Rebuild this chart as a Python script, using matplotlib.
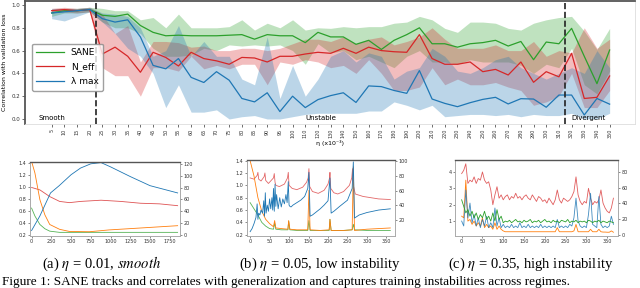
import matplotlib.pyplot as plt
import numpy as np

plt.rcParams['mathtext.fontset'] = 'stix'

# ---- top panel: correlation with validation loss vs learning rate ----
eta_labels = [5, 10, 15, 20, 25, 30, 35, 40, 45, 50, 55, 60, 65, 70, 75, 80, 85, 90, 95,
              100, 110, 120, 130, 140, 150, 160, 170, 180, 190, 200, 210, 220, 230, 240,
              250, 260, 270, 280, 290, 300, 310, 320, 330, 340, 350]

sane_mean = [0.93, 0.95, 0.95, 0.96,
             0.91, 0.90, 0.92, 0.82, 0.76, 0.73, 0.735, 0.73, 0.73, 0.73, 0.735, 0.74, 0.70, 0.74,
             0.73, 0.73, 0.67, 0.76,
             0.72, 0.72, 0.655, 0.69, 0.61, 0.69, 0.74, 0.80, 0.66, 0.66, 0.63, 0.66, 0.67, 0.69,
             0.64, 0.68, 0.52, 0.675, 0.66, 0.795, 0.55, 0.31, 0.605]
sane_hi = [0.96, 0.97, 0.97, 0.98,
           0.97, 0.95, 0.95, 0.87, 0.89, 0.80, 0.92, 0.80, 0.80, 0.80, 0.81, 0.87, 0.78, 0.84,
           0.80, 0.87, 0.78, 0.80,
           0.795, 0.81, 0.80, 0.81, 0.81, 0.84, 0.85, 0.90, 0.87, 0.795, 0.76, 0.85, 0.85, 0.84,
           0.795, 0.78, 0.84, 0.87, 0.89, 0.90, 0.77, 0.61, 0.795]
sane_lo = [0.90, 0.93, 0.93, 0.94,
           0.85, 0.80, 0.80, 0.75, 0.62, 0.55, 0.55, 0.56, 0.62, 0.60, 0.65, 0.64, 0.65, 0.64,
           0.65, 0.60, 0.48, 0.66,
           0.58, 0.60, 0.52, 0.55, 0.50, 0.45, 0.55, 0.60, 0.50, 0.50, 0.48, 0.52, 0.50, 0.50,
           0.50, 0.47, 0.40, 0.48, 0.45, 0.62, 0.30, 0.22, 0.42]

neff_mean = [0.95, 0.96, 0.95, 0.96,
             0.57, 0.63, 0.55, 0.41, 0.585, 0.54, 0.465, 0.585, 0.53, 0.51, 0.48, 0.54, 0.535, 0.50,
             0.55, 0.55, 0.57, 0.585,
             0.576, 0.62, 0.576, 0.63, 0.60, 0.59, 0.585, 0.74, 0.53, 0.48, 0.48, 0.50, 0.415, 0.435,
             0.386, 0.50, 0.322, 0.415, 0.37, 0.576, 0.18, 0.19, 0.377]
neff_hi = [0.97, 0.98, 0.97, 0.98,
           0.92, 0.75, 0.82, 0.50, 0.68, 0.68, 0.67, 0.63, 0.64, 0.60, 0.60, 0.62, 0.62, 0.60,
           0.62, 0.66, 0.70, 0.70,
           0.68, 0.72, 0.66, 0.70, 0.72, 0.65, 0.68, 0.72, 0.80, 0.70, 0.62, 0.62, 0.62, 0.65,
           0.60, 0.60, 0.68, 0.55, 0.60, 0.58, 0.80, 0.62, 0.70]
neff_lo = [0.93, 0.94, 0.93, 0.94,
           0.45, 0.38, 0.38, 0.20, 0.45, 0.45, 0.42, 0.55, 0.44, 0.47, 0.44, 0.48, 0.48, 0.30,
           0.50, 0.48, 0.52, 0.50,
           0.45, 0.47, 0.40, 0.52, 0.40, 0.25, 0.25, 0.28, 0.45, 0.30, 0.35, 0.30, 0.30, 0.32,
           0.28, 0.25, 0.12, 0.15, 0.20, 0.40, 0.10, 0.10, 0.25]

lam_mean = [0.93, 0.94, 0.95, 0.96,
            0.88, 0.85, 0.87, 0.72, 0.47, 0.44, 0.53, 0.365, 0.32, 0.415, 0.34, 0.18, 0.15, 0.23,
            0.065, 0.20, 0.10, 0.17,
            0.205, 0.23, 0.145, 0.29, 0.284, 0.25, 0.225, 0.425, 0.175, 0.137, 0.108, 0.143, 0.172,
            0.19, 0.132, 0.178, 0.175, 0.103, 0.21, 0.21, 0.035, 0.18, 0.13]
lam_hi = [0.97, 0.97, 0.97, 0.98,
          0.93, 0.92, 0.90, 0.80, 0.55, 0.60, 0.82, 0.55, 0.68, 0.55, 0.55, 0.35, 0.30, 0.72,
          0.18, 0.47, 0.20, 0.35,
          0.55, 0.60, 0.50, 0.58, 0.55, 0.35, 0.42, 0.45, 0.62, 0.55, 0.42, 0.40, 0.45, 0.52,
          0.55, 0.45, 0.40, 0.35, 0.40, 0.45, 0.40, 0.60, 0.45]
lam_lo = [0.88, 0.86, 0.90, 0.94,
          0.85, 0.75, 0.62, 0.55, 0.40, 0.10, 0.30, 0.06, 0.06, 0.08, 0.0, 0.02, 0.03, 0.0,
          0.0, 0.02, 0.04, 0.05,
          0.05, 0.05, 0.05, 0.07, 0.07, 0.15, 0.12, 0.08, 0.12, 0.02, 0.03, 0.04, 0.04, 0.03,
          0.04, 0.02, 0.04, 0.03, 0.03, 0.05, 0.0, 0.0, 0.05]

# ---- bottom panels: training curves (values in left-axis units) ----
# (a) eta = 0.01
a_blue_t = [0, 105, 240, 350, 500, 620, 750, 880, 1000, 1250, 1500, 1850]
a_blue = [0.28, 0.52, 0.90, 1.02, 1.20, 1.31, 1.38, 1.40, 1.33, 1.17, 1.02, 0.90]
a_orange_t = [0, 42, 105, 168, 230, 355, 480, 730, 980, 1230, 1480, 1850]
a_orange = [1.42, 1.23, 0.79, 0.54, 0.38, 0.30, 0.265, 0.26, 0.29, 0.31, 0.33, 0.36]
a_red_t = [0, 105, 230, 355, 480, 620, 880, 1130, 1380, 1620, 1850]
a_red = [0.99, 0.95, 0.84, 0.76, 0.74, 0.76, 0.78, 0.76, 0.73, 0.72, 0.69]
a_green_t = [0, 42, 105, 168, 230, 355, 600, 1000, 1500, 1850]
a_green = [0.65, 0.52, 0.38, 0.31, 0.27, 0.25, 0.25, 0.25, 0.25, 0.25]

# (b) eta = 0.05
b_red_t = [0, 10, 18, 20, 22, 28, 36, 38, 40, 47, 60, 62, 64, 66, 75, 88, 96, 98, 100, 108,
           120, 135, 145, 149, 151, 153, 160, 175, 190, 200, 204, 205, 207, 215, 225, 240,
           255, 261, 263, 265, 270, 290, 310, 330, 360]
b_red = [1.12, 1.10, 1.16, 1.21, 1.10, 1.07, 1.14, 1.20, 1.08, 1.03, 1.12, 1.19, 1.05, 1.00,
         0.98, 1.02, 1.12, 1.21, 1.00, 0.95, 0.93, 0.97, 1.05, 1.12, 1.27, 0.98, 0.90, 0.87,
         0.92, 1.02, 1.12, 1.21, 0.95, 0.88, 0.86, 0.90, 1.00, 1.12, 1.27, 1.0, 0.86, 0.82,
         0.80, 0.78, 0.77]
b_blue_t = [0, 5, 10, 15, 18, 20, 22, 25, 28, 32, 35, 37, 39, 41, 44, 47, 50, 53, 56, 58,
            60, 62, 64, 66, 68, 72, 76, 80, 84, 88, 92, 95, 98, 100, 102, 105, 110, 120, 130,
            140, 148, 151, 154, 160, 170, 180, 190, 200, 205, 208, 215, 230, 250, 262, 265,
            268, 280, 300, 330, 360]
b_blue = [0.25, 0.30, 0.38, 0.48, 0.70, 0.45, 0.55, 0.52, 0.60, 0.55, 0.75, 0.50, 0.88, 0.55,
          0.68, 0.58, 0.78, 0.62, 0.80, 0.60, 0.95, 0.58, 1.02, 0.66, 0.85, 0.62, 0.80, 0.65,
          0.78, 0.70, 0.85, 0.72, 1.06, 0.68, 0.66, 0.65, 0.68, 0.72, 0.76, 0.82, 0.95, 1.21,
          0.50, 0.52, 0.57, 0.62, 0.68, 0.75, 1.12, 0.55, 0.58, 0.66, 0.76, 0.95, 1.38, 0.47,
          0.52, 0.56, 0.60, 0.62]
b_spike_t = [0, 10, 20, 30, 40, 50, 60, 63, 66, 80, 97, 99, 102, 120, 148, 151, 154, 180,
             203, 205, 208, 240, 262, 265, 268, 300, 360]
b_orange = [1.40, 1.15, 0.80, 0.58, 0.45, 0.38, 0.33, 0.43, 0.31, 0.30, 0.29, 0.43, 0.29,
            0.28, 0.28, 0.92, 0.28, 0.27, 0.28, 0.45, 0.27, 0.27, 0.28, 1.30, 0.27, 0.29, 0.31]
b_green = [0.72, 0.62, 0.52, 0.40, 0.34, 0.30, 0.29, 0.39, 0.29, 0.28, 0.28, 0.42, 0.28,
           0.27, 0.27, 0.43, 0.27, 0.27, 0.27, 0.45, 0.27, 0.27, 0.28, 0.37, 0.28, 0.27, 0.27]

# (c) eta = 0.35, one value every 5 steps
c_red = [3.9, 4.1, 4.5, 3.3, 3.5, 3.4, 3.7, 3.3, 3.6, 3.5, 4.0, 3.5, 3.3, 3.4, 2.9, 2.0, 2.6,
         3.1, 2.4, 2.6, 2.3, 2.5, 2.6, 2.3, 2.5, 2.4, 2.7, 2.4, 2.5, 2.3, 2.5, 2.6, 2.4, 2.3,
         2.6, 2.4, 2.2, 2.5, 2.4, 2.2, 2.3, 2.1, 2.4, 2.2, 2.0, 2.3, 2.9, 2.3, 2.1, 2.4, 2.3,
         2.2, 2.3, 2.5, 2.8, 3.7, 2.6, 2.2, 2.0, 2.2, 2.1, 3.0, 2.4, 2.0, 2.2, 2.1, 2.3, 2.9,
         2.1, 1.8, 1.6, 1.5, 1.8, 2.4]
c_blue = [1.0, 0.7, 2.9, 1.2, 2.1, 0.9, 1.4, 0.7, 1.2, 0.6, 1.1, 0.7, 1.3, 0.6, 0.9, 0.6, 1.8,
          0.7, 1.2, 0.6, 0.8, 0.6, 0.7, 0.6, 0.8, 0.6, 0.7, 0.6, 0.9, 0.6, 0.7, 0.6, 0.8, 0.6,
          0.7, 0.6, 0.7, 0.6, 0.8, 0.6, 0.7, 0.6, 0.7, 0.6, 0.7, 0.6, 1.1, 0.6, 0.7, 0.6, 0.7,
          0.6, 0.8, 0.7, 1.2, 2.4, 1.0, 0.7, 0.6, 0.7, 0.6, 1.4, 2.7, 0.8, 0.7, 0.6, 2.5, 0.8,
          0.6, 0.7, 0.6, 0.7, 1.3, 0.8]
c_green = [2.3, 1.9, 1.5, 1.7, 1.3, 1.6, 1.2, 1.5, 1.1, 1.4, 1.2, 1.6, 1.1, 1.3, 1.0, 1.5, 1.0,
           1.7, 1.1, 1.3, 0.9, 1.0, 0.95, 1.05, 0.9, 1.0, 1.1, 0.95, 1.0, 0.9, 1.05, 0.95, 1.0,
           1.1, 0.9, 1.0, 0.95, 1.05, 0.9, 1.0, 1.1, 0.95, 1.0, 0.9, 1.05, 0.95, 1.0, 0.9, 1.05,
           1.0, 0.95, 1.1, 0.9, 1.0, 0.95, 1.05, 0.9, 1.0, 0.95, 1.0, 0.9, 1.05, 1.0, 0.9, 1.0,
           0.95, 1.05, 0.9, 1.0, 0.95, 0.9, 1.0, 0.95, 0.9]
c_orange = [1.3, 1.2, 3.5, 1.0, 1.1, 0.8, 1.0, 0.7, 0.9, 0.7, 1.2, 0.6, 0.8, 0.6, 0.7, 0.5, 0.9,
            0.5, 0.7, 0.5, 0.4, 0.35, 0.35, 0.35, 0.35, 0.35, 0.35, 0.35, 0.35, 0.35, 0.35,
            0.35, 0.35, 0.35, 0.35, 0.35, 0.35, 0.35, 0.35, 0.35, 0.35, 0.35, 0.35, 0.35, 0.35,
            0.35, 0.6, 0.35, 0.35, 0.35, 0.35, 0.35, 0.35, 0.35, 0.4, 0.8, 0.35, 0.35, 0.35,
            0.35, 0.35, 0.35, 0.5, 0.35, 0.35, 0.35, 0.5, 0.35, 0.33, 0.33, 0.32, 0.32, 0.4, 0.32]

C_GREEN, C_RED, C_BLUE, C_ORANGE = 'tab:green', 'tab:red', 'tab:blue', 'tab:orange'

fig = plt.figure(figsize=(6.4, 2.88), dpi=100)

# top panel
ax = fig.add_axes([25 / 640, 1 - 124 / 288, 610 / 640, 123 / 288])
x = np.arange(len(eta_labels))
ax.fill_between(x, sane_lo, sane_hi, color=C_GREEN, alpha=0.3, lw=0)
ax.fill_between(x, neff_lo, neff_hi, color=C_RED, alpha=0.3, lw=0)
ax.fill_between(x, lam_lo, lam_hi, color=C_BLUE, alpha=0.3, lw=0)
ax.plot(x, sane_mean, color=C_GREEN, lw=0.9, label='SANE')
ax.plot(x, neff_mean, color=C_RED, lw=0.9, label='N_eff')
ax.plot(x, lam_mean, color=C_BLUE, lw=0.9, label='λ max')
ax.axvline(3.5, color='#222222', ls='--', lw=1.2)
ax.axvline(40.5, color='#222222', ls='--', lw=1.2)
ax.text(0, 0.01, 'Smooth', fontsize=5, ha='center', va='center')
ax.text(21.2, 0.01, 'Unstable', fontsize=5, ha='center', va='center')
ax.text(42.35, 0.01, 'Divergent', fontsize=5, ha='center', va='center')
ax.set_xlim(-2.1, 46)
ax.set_ylim(-0.044, 1.035)
ax.set_xticks(x)
ax.set_xticklabels(eta_labels, rotation=90, fontsize=3.5)
ax.set_yticks([0.0, 0.2, 0.4, 0.6, 0.8, 1.0])
ax.set_yticklabels(['0.0', '0.2', '0.4', '0.6', '0.8', '1.0'], fontsize=4)
ax.tick_params(length=2, width=0.5, pad=1.5, colors='#333333')
ax.set_xlabel('η (x10⁻³)', fontsize=4.5, labelpad=1)
ax.set_ylabel('Correlation with validation loss', fontsize=4.5, labelpad=3)
for side in ['left', 'top']:
    ax.spines[side].set_color('#555555')
    ax.spines[side].set_linewidth(1.3)
for side in ['right', 'bottom']:
    ax.spines[side].set_color('#dddddd')
    ax.spines[side].set_linewidth(0.6)
ax.legend(loc='upper left', bbox_to_anchor=(0.004, 0.69), fontsize=6.5, frameon=True,
          edgecolor='#888888', fancybox=True, handlelength=3.0, borderpad=0.5, labelspacing=0.6)


def style_small(a, a2):
    for s in a.spines.values():
        s.set_color('#aaaaaa')
        s.set_linewidth(0.6)
    for s in a2.spines.values():
        s.set_color('#aaaaaa')
        s.set_linewidth(0.6)
    a2.spines['top'].set_color('#555555')
    a2.spines['top'].set_linewidth(1.0)
    a.tick_params(labelsize=3.5, length=1.5, width=0.4, pad=1, colors='#333333')
    a2.tick_params(labelsize=3.5, length=1.5, width=0.4, pad=1, colors='#333333')


lw_s = 0.6
# panel (a)
axa = fig.add_axes([30 / 640, 1 - 236 / 288, 150 / 640, 74 / 288])
axa.plot(a_green_t, a_green, color=C_GREEN, lw=lw_s, alpha=0.8)
axa.plot(a_red_t, a_red, color=C_RED, lw=lw_s, alpha=0.8)
axa.plot(a_orange_t, a_orange, color=C_ORANGE, lw=lw_s)
axa.plot(a_blue_t, a_blue, color=C_BLUE, lw=lw_s)
axa.set_xlim(-20, 1880)
axa.set_ylim(0.19, 1.41)
axa.set_xticks([0, 250, 500, 750, 1000, 1250, 1500, 1750])
axa.set_yticks([0.2, 0.4, 0.6, 0.8, 1.0, 1.2, 1.4])
axa2 = axa.twinx()
axa2.set_ylim(-1.7, 123)
axa2.set_yticks([0, 20, 40, 60, 80, 100, 120])
style_small(axa, axa2)

# panel (b)
axb = fig.add_axes([247 / 640, 1 - 236 / 288, 148 / 640, 76 / 288])
axb.plot(b_spike_t, b_green, color=C_GREEN, lw=lw_s, alpha=0.8)
axb.plot(b_red_t, b_red, color=C_RED, lw=lw_s, alpha=0.7)
axb.plot(b_spike_t, b_orange, color=C_ORANGE, lw=lw_s)
axb.plot(b_blue_t, b_blue, color=C_BLUE, lw=lw_s)
axb.set_xlim(-8, 372)
axb.set_ylim(0.18, 1.41)
axb.set_xticks([0, 50, 100, 150, 200, 250, 300, 350])
axb.set_yticks([0.2, 0.4, 0.6, 0.8, 1.0, 1.2, 1.4])
axb2 = axb.twinx()
axb2.set_ylim(-1.7, 102)
axb2.set_yticks([20, 40, 60, 80, 100])
style_small(axb, axb2)

# panel (c)
axc = fig.add_axes([455 / 640, 1 - 236 / 288, 163 / 640, 76 / 288])
tc = np.arange(len(c_red)) * 5
axc.plot(tc, c_red, color=C_RED, lw=lw_s, alpha=0.75)
axc.plot(tc, c_orange, color=C_ORANGE, lw=lw_s)
axc.plot(tc, c_blue, color=C_BLUE, lw=lw_s, alpha=0.85)
axc.plot(tc, c_green, color=C_GREEN, lw=lw_s)
axc.set_xlim(-16, 376)
axc.set_ylim(0.09, 4.73)
axc.set_xticks([0, 50, 100, 150, 200, 250, 300, 350])
axc.set_yticks([1, 2, 3, 4])
axc2 = axc.twinx()
axc2.set_ylim(-1.3, 95)
axc2.set_yticks([0, 20, 40, 60, 80])
style_small(axc, axc2)

# captions
cap_font = dict(fontsize=10.5, family='Liberation Serif', ha='center', va='center')
fig.text(102 / 640, 1 - 264 / 288, r'(a) $\eta$ = 0.01, $\mathit{smooth}$', **cap_font)
fig.text(320 / 640, 1 - 264 / 288, r'(b) $\eta$ = 0.05, low instability', **cap_font)
fig.text(531 / 640, 1 - 264 / 288, r'(c) $\eta$ = 0.35, high instability', **cap_font)
fig.text(2 / 640, 0.5 / 288,
         'Figure 1: SANE tracks and correlates with generalization and captures training '
         'instabilities across regimes.',
         fontsize=9.5, family='Liberation Serif', ha='left', va='bottom')

fig.savefig('out.png', dpi=100)
